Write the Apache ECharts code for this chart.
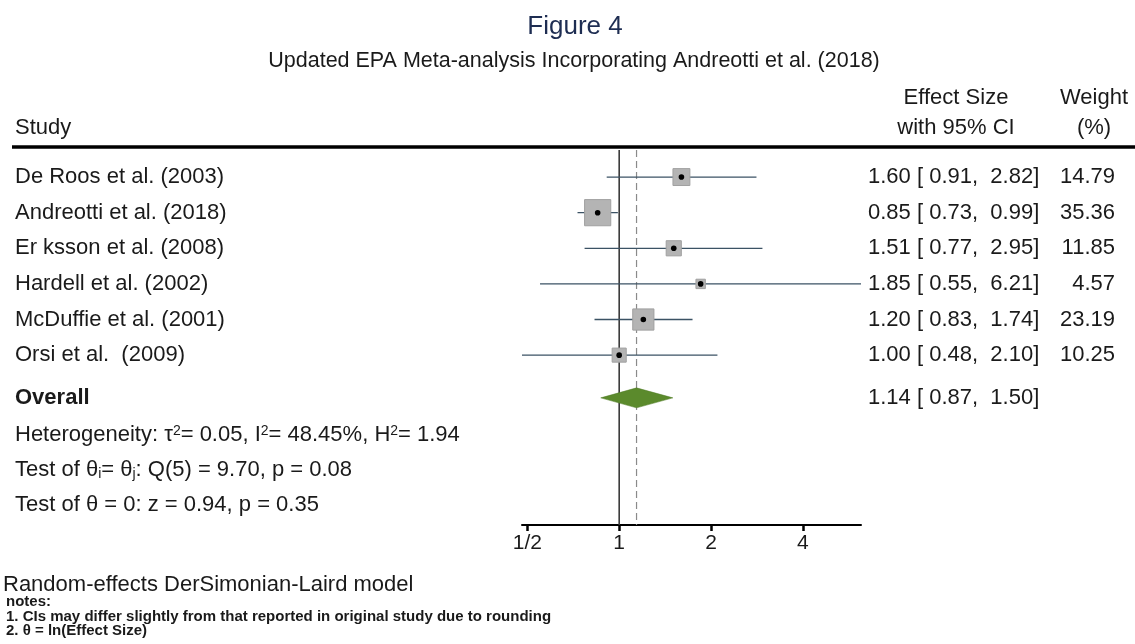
<!DOCTYPE html>
<html><head><meta charset="utf-8">
<script src="https://cdn.jsdelivr.net/npm/echarts@6/dist/echarts.min.js"></script>
<style>html,body{margin:0;padding:0;background:#fff}#c{width:1135px;height:644px}</style>
</head><body><div id="c"></div>
<script>
// ---- data ----
const studies = ['De Roos et al. (2003)', 'Andreotti et al. (2018)', 'Er ksson et al. (2008)', 'Hardell et al. (2002)', 'McDuffie et al. (2001)', 'Orsi et al.  (2009)'];
const effect = [1.60, 0.85, 1.51, 1.85, 1.20, 1.00];
const lower  = [0.91, 0.73, 0.77, 0.55, 0.83, 0.48];
const upper  = [2.82, 0.99, 2.95, 6.21, 1.74, 2.10];
const weight = [14.79, 35.36, 11.85, 4.57, 23.19, 10.25];
const overallEffect = [1.14];
const overallLower = [0.87];
const overallUpper = [1.50];
const xTicks = [0.5, 1, 2, 4];
const xTickLabels = ['1/2', '1', '2', '4'];
const refLines = [1, 1.14];

// ---- chart ----
const FF = "'Liberation Sans', Arial, Helvetica, sans-serif";
const NARROW = "'Liberation Sans Narrow', 'Liberation Sans', Arial, sans-serif";
const TXT = '#1a1a1a';
const FS = 22;
const log2 = v => Math.log2(v);
const f2 = v => v.toFixed(2);
const ciText = (e, l, u) => f2(e) + ' [ ' + f2(l) + ',  ' + f2(u) + ']';
const OVERALL_ROW = 6.2;

const chart = echarts.init(document.getElementById('c'), null, {renderer: 'canvas'});

const studyData = studies.map((s, i) => [log2(effect[i]), i, log2(lower[i]), log2(upper[i]), weight[i]]);
const overallData = overallEffect.map((e, i) => [log2(e), OVERALL_ROW, log2(overallLower[i]), log2(overallUpper[i])]);
const refData = refLines.map((v, i) => [log2(v), i]);

function renderStudy(params, api) {
  const i = api.value(1);
  const c = api.coord([api.value(0), i]);
  const lo = api.coord([api.value(2), i]);
  const hi = api.coord([api.value(3), i]);
  const side = 4.4 * Math.sqrt(api.value(4));
  const y = c[1];
  return {
    type: 'group',
    children: [
      {type: 'line', shape: {x1: lo[0], y1: y, x2: hi[0], y2: y}, style: {stroke: '#3b5264', lineWidth: 1.3}},
      {type: 'rect', shape: {x: c[0] - side / 2, y: y - side / 2, width: side, height: side},
        style: {fill: '#b4b4b4', stroke: '#a0a0a0', lineWidth: 1}},
      {type: 'circle', shape: {cx: c[0], cy: y, r: 2.8}, style: {fill: '#000'}},
      {type: 'text', x: 15, y: y, style: {text: studies[i], fill: TXT, fontSize: FS, fontFamily: FF, align: 'left', verticalAlign: 'middle'}},
      {type: 'text', x: 868, y: y, style: {text: ciText(effect[i], lower[i], upper[i]), fill: TXT, fontSize: FS, fontFamily: FF, align: 'left', verticalAlign: 'middle'}},
      {type: 'text', x: 1115, y: y, style: {text: f2(weight[i]), fill: TXT, fontSize: FS, fontFamily: FF, align: 'right', verticalAlign: 'middle'}}
    ]
  };
}

function renderOverall(params, api) {
  const r = api.value(1);
  const c = api.coord([api.value(0), r]);
  const lo = api.coord([api.value(2), r]);
  const hi = api.coord([api.value(3), r]);
  const y = c[1], h = 10;
  const i = params.dataIndex;
  return {
    type: 'group',
    children: [
      {type: 'polygon', shape: {points: [[lo[0], y], [c[0], y - h], [hi[0], y], [c[0], y + h]]},
        style: {fill: '#5b8a2c', stroke: '#4f7a25', lineWidth: 0.5}},
      {type: 'text', x: 15, y: y, style: {text: 'Overall', fill: TXT, fontSize: FS, fontWeight: 'bold', fontFamily: FF, verticalAlign: 'middle'}},
      {type: 'text', x: 868, y: y, style: {text: ciText(overallEffect[i], overallLower[i], overallUpper[i]), fill: TXT, fontSize: FS, fontFamily: FF, verticalAlign: 'middle'}}
    ]
  };
}

function renderRef(params, api) {
  const cs = params.coordSys;
  const x = api.coord([api.value(0), 0])[0];
  const dashed = api.value(1) === 1;
  return {
    type: 'line',
    shape: {x1: x, y1: cs.y, x2: x, y2: cs.y + cs.height},
    style: dashed ? {stroke: '#8a8a8a', lineWidth: 1.2, lineDash: [7, 4]} : {stroke: '#3a3a3a', lineWidth: 1.6}
  };
}

const sub = {fontSize: 14, fontFamily: FF, fill: TXT, verticalAlign: 'top'};
const subB = {fontSize: 14, fontFamily: FF, fill: TXT, verticalAlign: 'bottom'};
function txt(x, y, text, extra) {
  return Object.assign({type: 'text', x: x, y: y,
    style: Object.assign({text: text, fill: TXT, fontSize: FS, fontFamily: FF, align: 'left', verticalAlign: 'middle'}, extra || {})});
}

const option = {
  backgroundColor: '#fff',
  animation: false,
  grid: {left: 522, right: 274, top: 150, height: 375, containLabel: false},
  xAxis: {
    type: 'value',
    min: log2(Math.min.apply(null, lower)),
    max: log2(Math.max.apply(null, upper)),
    splitLine: {show: false},
    axisLine: {show: true, onZero: false, lineStyle: {color: '#000', width: 2}},
    axisTick: {show: true, customValues: xTicks.map(log2), length: 6, lineStyle: {color: '#000', width: 2.5}},
    axisLabel: {show: true, customValues: xTicks.map(log2), margin: 8,
      formatter: v => { const k = xTicks.findIndex(t => Math.abs(log2(t) - v) < 1e-6); return k >= 0 ? xTickLabels[k] : ''; },
      color: TXT, fontSize: 21, fontFamily: FF}
  },
  yAxis: {type: 'value', inverse: true, min: -0.76, max: 9.77, show: false},
  series: [
    {type: 'custom', renderItem: renderRef, data: refData, clip: false, z: 1},
    {type: 'custom', renderItem: renderStudy, data: studyData, clip: false, z: 3},
    {type: 'custom', renderItem: renderOverall, data: overallData, clip: false, z: 3}
  ],
  graphic: [
    txt(575, 27, 'Figure 4', {align: 'center', fontSize: 26, fill: '#1e2d52'}),
    txt(574, 61, 'Updated EPA Meta-analysis Incorporating Andreotti et al. (2018)', {align: 'center', fontSize: 21.5}),
    txt(15, 128, 'Study'),
    txt(956, 98, 'Effect Size', {align: 'center'}),
    txt(956, 128, 'with 95% CI', {align: 'center'}),
    txt(1094, 98, 'Weight', {align: 'center'}),
    txt(1094, 128, '(%)', {align: 'center'}),
    {type: 'line', shape: {x1: 12, y1: 147, x2: 1135, y2: 147}, style: {stroke: '#000', lineWidth: 3.5}},
    txt(15, 435, 'Heterogeneity: τ{sup|2}= 0.05, I{sup|2}= 48.45%, H{sup|2}= 1.94', {rich: {sup: sub}}),
    txt(15, 470, 'Test of θ{sb|i}= θ{sb|j}: Q(5) = 9.70, p = 0.08', {rich: {sb: subB}}),
    txt(15, 505, 'Test of θ = 0: z = 0.94, p = 0.35'),
    txt(3, 585, 'Random-effects DerSimonian-Laird model', {fontSize: 22}),
    txt(6, 602, 'notes:', {fontSize: 15, fontFamily: NARROW, fontWeight: 'bold'}),
    txt(6, 617, '1. CIs may differ slightly from that reported in original study due to rounding', {fontSize: 15, fontFamily: NARROW, fontWeight: 'bold'}),
    txt(6, 631, '2. θ = ln(Effect Size)', {fontSize: 15, fontFamily: NARROW, fontWeight: 'bold'})
  ]
};
chart.setOption(option);
</script>
</body></html>
